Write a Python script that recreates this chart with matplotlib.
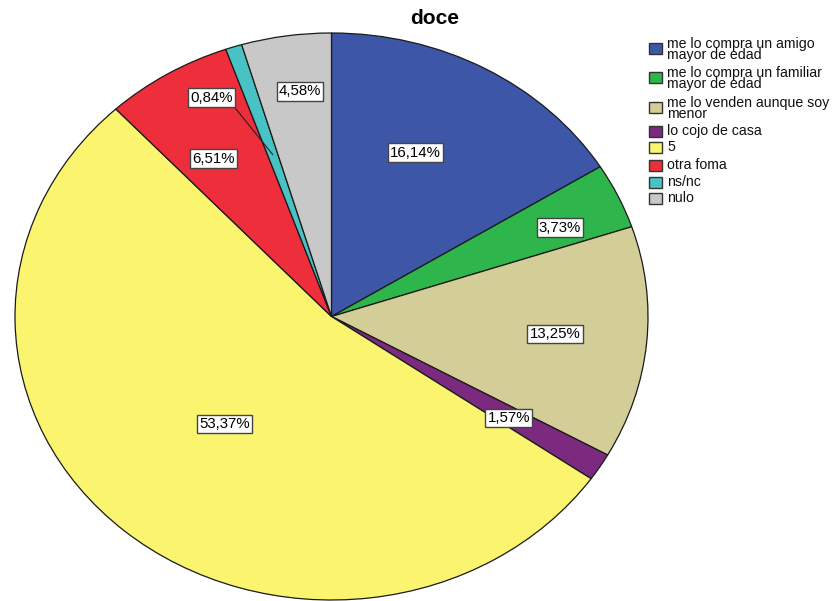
import matplotlib
matplotlib.use('Agg')
import matplotlib.pyplot as plt
from matplotlib.patches import Rectangle
import numpy as np

plt.rcParams['font.family'] = ['Liberation Sans', 'DejaVu Sans']

# datos
categories = ['me lo compra un amigo\nmayor de edad',
              'me lo compra un familiar\nmayor de edad',
              'me lo venden aunque soy\nmenor',
              'lo cojo de casa', '5', 'otra foma', 'ns/nc', 'nulo']
values = [16.14, 3.73, 13.25, 1.57, 53.37, 6.51, 0.84, 4.58]
value_labels = ['16,14%', '3,73%', '13,25%', '1,57%', '53,37%', '6,51%', '0,84%', '4,58%']
colors = ['#3D56A8', '#2EB54C', '#D3CD98', '#7B2A80',
          '#FAF46F', '#EE2E3A', '#49C2C5', '#C8C8C8']

# posicion de etiquetas (radio relativo, desplazamiento angular en grados, sentido horario)
label_r = [0.636, 0.787, 0.709, 0.665, 0.507, 0.67, 0.86, 0.80]
label_shift = [-4.4, 1.7, -0.4, 0.5, 0.7, -2.6, -8.2, 1.1]

W, H = 838, 601
fig = plt.figure(figsize=(W / 100, H / 100), dpi=100)


def fx(x):
    return x / W


def fy(y):
    return 1 - y / H


# pie elipse: 15..648 x 33..600 px
ax = fig.add_axes([fx(15), fy(600), (648 - 15) / W, (600 - 33) / H])
wedges, _ = ax.pie(values, colors=colors, startangle=90, counterclock=False,
                   wedgeprops=dict(edgecolor='#1a1a1a', linewidth=0.9))
ax.set_aspect('auto')
ax.set_xlim(-1, 1)
ax.set_ylim(-1, 1)
ax.axis('off')

vals = np.array(values)
mid = np.cumsum(vals) - vals / 2
mid_deg = mid / vals.sum() * 360  # horario desde arriba

box = dict(boxstyle='square,pad=0.15', facecolor='white', edgecolor='#444444', linewidth=1)
for i, txt in enumerate(value_labels):
    ang = np.deg2rad(90 - (mid_deg[i] + label_shift[i]))
    x, y = label_r[i] * np.cos(ang), label_r[i] * np.sin(ang)
    if txt == '0,84%':
        a = np.deg2rad(90 - mid_deg[i])
        ax.annotate(txt, xy=(0.6 * np.cos(a), 0.6 * np.sin(a)), xytext=(x, y),
                    ha='center', va='center', fontsize=10.8, bbox=box,
                    arrowprops=dict(arrowstyle='-', color='#222222', lw=0.8,
                                    relpos=(1, 0), shrinkA=0, shrinkB=0))
    else:
        ax.text(x, y, txt, ha='center', va='center', fontsize=10.8, bbox=box)

fig.text(fx(435), fy(18), 'doce', ha='center', va='center',
         fontsize=15, fontweight='bold')

# leyenda
leg_top = [43, 72, 102, 126, 142, 160, 177, 193]
for i, lab in enumerate(categories):
    t = leg_top[i]
    fig.add_artist(Rectangle((fx(649), fy(t + 11)), 13 / W, 11 / H,
                             transform=fig.transFigure, facecolor=colors[i],
                             edgecolor='#333333', linewidth=1))
    two = '\n' in lab
    # va='baseline' apunta a la ultima linea
    base = t + 5.5 + 3.4 + (6.7 if two else 0)
    fig.text(fx(667), fy(base), lab, ha='left', va='baseline',
             fontsize=10.2, color='#111111', linespacing=0.73)

plt.savefig('out.png', dpi=100)
plt.close()
